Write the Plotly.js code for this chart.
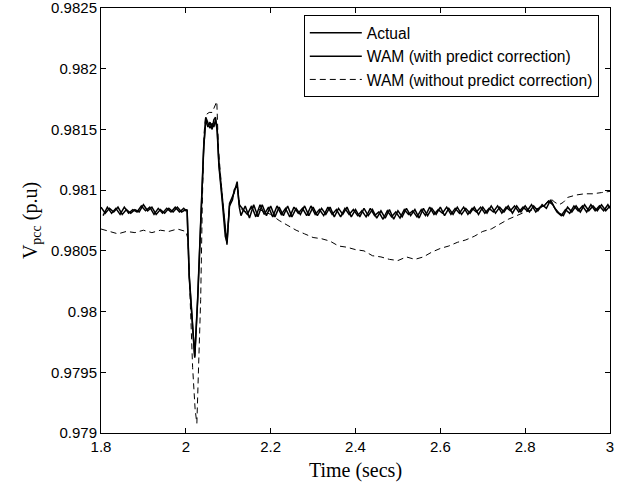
<!DOCTYPE html>
<html>
<head>
<meta charset="utf-8">
<script src="https://cdn.plot.ly/plotly-3.0.1.min.js"></script>
<style>html,body{margin:0;padding:0;background:#fff;}#chart{width:628px;height:487px;}</style>
</head>
<body>
<div id="chart"></div>
<script>
// Time axis of the "Actual" series (s)
var timeActual = [
  1.80,1.81,1.82,1.83,1.84,1.85,1.86,1.87,1.88,1.89,1.90,1.91,1.92,1.93,1.94,1.95,1.96,1.97,1.98,1.99,2.00,
  2.003,2.008,2.016,2.021,2.028,2.036,2.042,2.047,2.052,2.057,2.062,2.066,2.070,2.074,2.078,2.086,2.093,2.097,2.103,2.110,2.114,2.121,2.126,
  2.13,2.14,2.15,2.16,2.17,2.18,2.19,2.20,2.21,2.22,2.23,2.24,2.25,2.26,2.27,2.28,2.29,2.30,2.31,2.32,2.33,2.34,2.35,2.36,2.37,2.38,2.39,
  2.40,2.41,2.42,2.43,2.44,2.45,2.46,2.47,2.48,2.49,2.50,2.51,2.52,2.53,2.54,2.55,2.56,2.57,2.58,2.59,2.60,2.61,2.62,2.63,2.64,2.65,2.66,
  2.67,2.68,2.69,2.70,2.71,2.72,2.73,2.74,2.75,2.76,2.77,2.78,2.79,2.80,2.81,2.82,2.83,2.84,2.85,2.86,2.87,2.88,2.89,2.90,2.91,2.92,2.93,
  2.94,2.95,2.96,2.97,2.98,2.99,3.00
];
var actual = [
  0.98086,0.98081,0.98085,0.98082,0.98086,0.98080,0.98084,0.98081,0.98084,0.98082,0.98088,0.98083,0.98086,0.98080,0.98084,0.98081,0.98085,0.98082,0.98086,0.98082,0.98084,
  0.98083,0.98028,0.97982,0.97962,0.98010,0.98078,0.98133,0.98160,0.98156,0.98151,0.98155,0.98152,0.98158,0.98150,0.98122,0.98092,0.98065,0.98055,0.98089,0.98094,0.98098,0.98107,0.98086,
  0.98079,0.98087,0.98077,0.98088,0.98078,0.98088,0.98079,0.98087,0.98078,0.98086,0.98079,0.98087,0.98078,0.98085,0.98080,0.98087,0.98079,0.98086,0.98079,0.98085,0.98080,0.98086,0.98078,0.98085,0.98080,0.98086,0.98078,
  0.98084,0.98078,0.98085,0.98079,0.98084,0.98077,0.98083,0.98077,0.98084,0.98076,0.98083,0.98078,0.98085,0.98079,0.98084,0.98077,0.98085,0.98079,0.98085,0.98080,0.98086,0.98079,0.98085,0.98080,0.98086,0.98080,0.98085,
  0.98081,0.98086,0.98080,0.98086,0.98081,0.98087,0.98081,0.98086,0.98082,0.98087,0.98081,0.98087,0.98082,0.98087,0.98082,0.98087,0.98083,0.98088,0.98085,0.98092,0.98085,0.98081,0.98079,0.98086,0.98082,0.98087,0.98082,
  0.98088,0.98083,0.98087,0.98083,0.98088,0.98083,0.98087
];

// Time axis of the "WAM (with predict correction)" series (s)
var timeWam = [
  1.805,1.815,1.825,1.835,1.845,1.855,1.865,1.875,1.885,1.895,1.905,1.915,1.925,1.935,1.945,1.955,1.965,1.975,1.985,1.995,2.000,
  2.003,2.008,2.016,2.021,2.028,2.036,2.042,2.047,2.052,2.057,2.062,2.066,2.070,2.074,2.078,2.086,2.093,2.097,2.103,2.110,2.114,2.121,2.126,
  2.135,2.145,2.155,2.165,2.175,2.185,2.195,2.205,2.215,2.225,2.235,2.245,2.255,2.265,2.275,2.285,2.295,2.305,2.315,2.325,2.335,2.345,2.355,2.365,2.375,2.385,2.395,
  2.405,2.415,2.425,2.435,2.445,2.455,2.465,2.475,2.485,2.495,2.505,2.515,2.525,2.535,2.545,2.555,2.565,2.575,2.585,2.595,2.605,2.615,2.625,2.635,2.645,2.655,2.665,
  2.675,2.685,2.695,2.705,2.715,2.725,2.735,2.745,2.755,2.765,2.775,2.785,2.795,2.805,2.815,2.825,2.835,2.845,2.855,2.865,2.875,2.885,2.895,2.905,2.915,2.925,2.935,
  2.945,2.955,2.965,2.975,2.985,2.995,3.000
];
var wamWith = [
  0.98079,0.98086,0.98081,0.98085,0.98080,0.98086,0.98081,0.98084,0.98082,0.98087,0.98083,0.98086,0.98080,0.98085,0.98081,0.98085,0.98082,0.98086,0.98082,0.98085,0.98083,
  0.98084,0.98030,0.97985,0.97963,0.98012,0.98080,0.98135,0.98158,0.98152,0.98156,0.98150,0.98158,0.98160,0.98148,0.98120,0.98090,0.98062,0.98057,0.98087,0.98092,0.98100,0.98104,0.98088,
  0.98084,0.98080,0.98087,0.98078,0.98088,0.98080,0.98086,0.98078,0.98087,0.98080,0.98085,0.98078,0.98086,0.98081,0.98085,0.98079,0.98087,0.98080,0.98084,0.98079,0.98086,0.98080,0.98084,0.98078,0.98085,0.98080,0.98084,
  0.98079,0.98083,0.98078,0.98085,0.98079,0.98082,0.98076,0.98083,0.98078,0.98082,0.98077,0.98084,0.98080,0.98083,0.98078,0.98084,0.98079,0.98086,0.98080,0.98084,0.98081,0.98086,0.98080,0.98085,0.98081,0.98086,0.98080,
  0.98085,0.98082,0.98086,0.98081,0.98085,0.98082,0.98087,0.98081,0.98086,0.98083,0.98087,0.98082,0.98086,0.98083,0.98088,0.98082,0.98086,0.98087,0.98091,0.98088,0.98082,0.98079,0.98084,0.98081,0.98087,0.98083,0.98087,
  0.98082,0.98088,0.98083,0.98087,0.98083,0.98088,0.98085
];

// Time axis and values of "WAM (without predict correction)"
var timeDashed = [
  1.80,1.82,1.84,1.86,1.88,1.90,1.92,1.94,1.96,1.98,2.000,
  2.005,2.010,2.016,2.022,2.026,2.030,2.035,2.039,2.043,2.047,2.055,2.062,2.067,2.073,2.077,2.086,2.092,2.097,2.103,2.112,2.121,2.128,
  2.14,2.16,2.18,2.20,2.22,2.24,2.26,2.28,2.30,2.32,2.34,2.36,2.38,2.40,2.42,2.44,2.46,2.48,2.50,2.52,2.54,2.56,2.58,2.60,
  2.62,2.64,2.66,2.68,2.70,2.72,2.74,2.76,2.78,2.80,2.82,2.84,2.86,2.87,2.88,2.89,2.90,2.92,2.94,2.96,2.98,3.00
];
var wamWithout = [
  0.98068,0.98066,0.98064,0.98066,0.98065,0.98067,0.98065,0.98067,0.98066,0.98068,0.98066,
  0.98060,0.98018,0.97954,0.97919,0.97908,0.97954,0.98010,0.98092,0.98147,0.98162,0.98164,0.98164,0.98168,0.98173,0.98133,0.98094,0.98070,0.98059,0.98087,0.98096,0.98105,0.98085,
  0.98082,0.98086,0.98083,0.98080,0.98075,0.98071,0.98067,0.98064,0.98061,0.98060,0.98058,0.98054,0.98053,0.98051,0.98050,0.98046,0.98045,0.98043,0.98042,0.98045,0.98043,0.98045,0.98049,0.98052,
  0.98054,0.98057,0.98059,0.98062,0.98066,0.98068,0.98072,0.98076,0.98079,0.98082,0.98084,0.98086,0.98093,0.98090,0.98088,0.98090,0.98094,0.98096,0.98097,0.98097,0.98098,0.98099
];

var xTicks = [1.8, 2, 2.2, 2.4, 2.6, 2.8, 3];
var xTickText = ['1.8', '2', '2.2', '2.4', '2.6', '2.8', '3'];
var yTicks = [0.979, 0.9795, 0.98, 0.9805, 0.981, 0.9815, 0.982, 0.9825];
var yTickText = ['0.979', '0.9795', '0.98', '0.9805', '0.981', '0.9815', '0.982', '0.9825'];

var traces = [
  {x: timeActual, y: actual, name: 'Actual', type: 'scatter', mode: 'lines',
   line: {color: '#000', width: 1.5}},
  {x: timeWam, y: wamWith, name: 'WAM (with predict correction)', type: 'scatter', mode: 'lines',
   line: {color: '#000', width: 1.5}},
  {x: timeDashed, y: wamWithout, name: 'WAM (without predict correction)', type: 'scatter', mode: 'lines',
   line: {color: '#000', width: 1, dash: '6px,4px'}}
];

var tickFont = {family: 'Liberation Sans, Arial, sans-serif', size: 15, color: '#000'};
var layout = {
  width: 628, height: 487,
  margin: {l: 101, r: 18, t: 8, b: 54},
  paper_bgcolor: '#fff', plot_bgcolor: '#fff',
  showlegend: true,
  legend: {x: 0.978, y: 0.983, xanchor: 'right', yanchor: 'top',
           bgcolor: '#fff', bordercolor: '#000', borderwidth: 1,
           itemwidth: 52,
           font: {family: 'Liberation Sans, Arial, sans-serif', size: 15.6, color: '#000'},
           tracegroupgap: 0},
  xaxis: {range: [1.8, 3], tickvals: xTicks, ticktext: xTickText,
          showline: true, linecolor: '#000', linewidth: 1, mirror: 'ticks',
          ticks: 'inside', ticklen: 5, tickcolor: '#000', showgrid: false, zeroline: false,
          tickfont: tickFont, ticklabeloverflow: 'allow',
          title: {text: 'Time (secs)', font: {family: 'Liberation Serif, Times New Roman, serif', size: 20, color: '#000'}, standoff: 8}},
  yaxis: {range: [0.979, 0.98250002], tickvals: yTicks, ticktext: yTickText,
          showline: true, linecolor: '#000', linewidth: 1, mirror: 'ticks',
          ticks: 'inside', ticklen: 5, tickcolor: '#000', showgrid: false, zeroline: false,
          tickfont: tickFont, ticklabeloverflow: 'allow',
          title: {text: 'V<sub>pcc</sub> (p.u)', font: {family: 'Liberation Serif, Times New Roman, serif', size: 20, color: '#000'}, standoff: 8}}
};

Plotly.newPlot('chart', traces, layout, {displayModeBar: false, staticPlot: true});
</script>
</body>
</html>
